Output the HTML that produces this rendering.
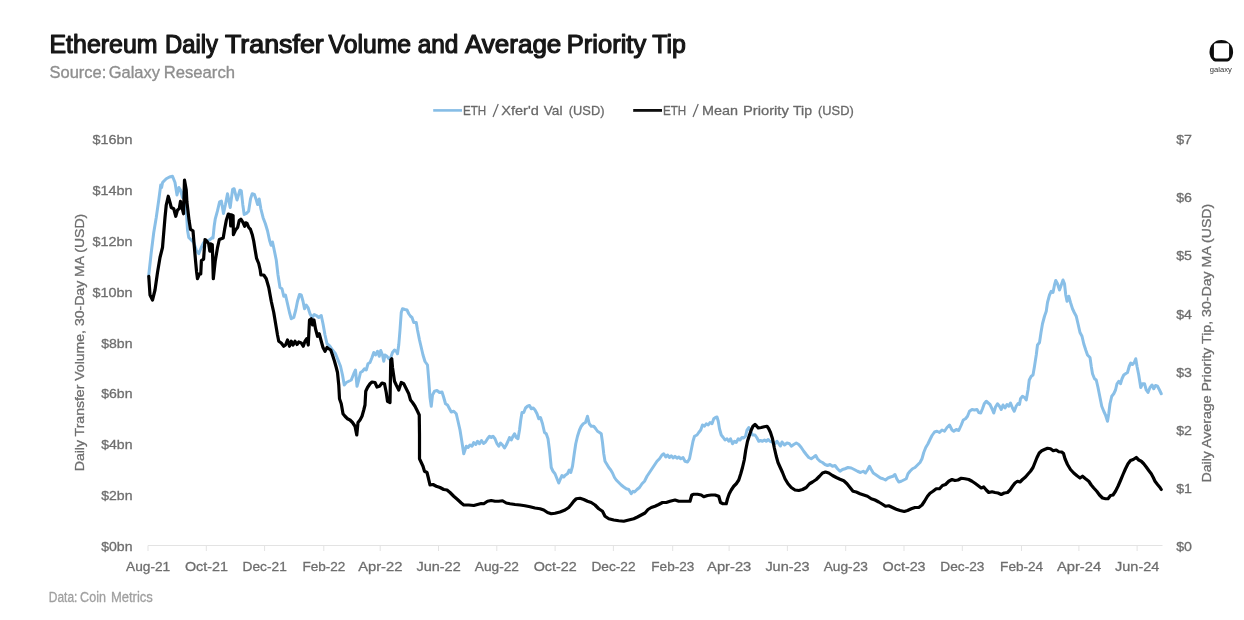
<!DOCTYPE html>
<html><head><meta charset="utf-8"><title>Ethereum Daily Transfer Volume and Average Priority Tip</title>
<style>
html,body{margin:0;padding:0;background:#fff;}
body{width:1244px;height:620px;overflow:hidden;position:relative;font-family:"Liberation Sans",sans-serif;}
svg{position:absolute;left:0;top:0;}
text{font-family:"Liberation Sans",sans-serif;}
</style></head><body>
<svg width="1244" height="620" viewBox="0 0 1244 620">
<defs><filter id="b" x="-5%" y="-5%" width="110%" height="110%"><feGaussianBlur stdDeviation="0.6"/></filter>
<filter id="b2" x="-5%" y="-20%" width="110%" height="140%"><feGaussianBlur stdDeviation="0.4"/></filter></defs>
<rect width="1244" height="620" fill="#ffffff"/>

<g filter="url(#b2)">
<text x="49.5" y="52.6" font-size="25.3" font-weight="normal" fill="#161616" stroke="#161616" stroke-width="1.2" stroke-linejoin="round" textLength="108.00" lengthAdjust="spacingAndGlyphs">Ethereum</text>
<text x="165" y="52.6" font-size="25.3" font-weight="normal" fill="#161616" stroke="#161616" stroke-width="1.2" stroke-linejoin="round" textLength="53.00" lengthAdjust="spacingAndGlyphs">Daily</text>
<text x="225" y="52.6" font-size="25.3" font-weight="normal" fill="#161616" stroke="#161616" stroke-width="1.2" stroke-linejoin="round" textLength="98.75" lengthAdjust="spacingAndGlyphs">Transfer</text>
<text x="328.5" y="52.6" font-size="25.3" font-weight="normal" fill="#161616" stroke="#161616" stroke-width="1.2" stroke-linejoin="round" textLength="82.50" lengthAdjust="spacingAndGlyphs">Volume</text>
<text x="417.7" y="52.6" font-size="25.3" font-weight="normal" fill="#161616" stroke="#161616" stroke-width="1.2" stroke-linejoin="round" textLength="40.70" lengthAdjust="spacingAndGlyphs">and</text>
<text x="465" y="52.6" font-size="25.3" font-weight="normal" fill="#161616" stroke="#161616" stroke-width="1.2" stroke-linejoin="round" textLength="96.30" lengthAdjust="spacingAndGlyphs">Average</text>
<text x="566.8" y="52.6" font-size="25.3" font-weight="normal" fill="#161616" stroke="#161616" stroke-width="1.2" stroke-linejoin="round" textLength="79.40" lengthAdjust="spacingAndGlyphs">Priority</text>
<text x="652.3" y="52.6" font-size="25.3" font-weight="normal" fill="#161616" stroke="#161616" stroke-width="1.2" stroke-linejoin="round" textLength="33.60" lengthAdjust="spacingAndGlyphs">Tip</text>
<text x="49.5" y="77.6" font-size="17.2" font-weight="normal" fill="#8e8e8e" stroke="#8e8e8e" stroke-width="0.35" stroke-linejoin="round" textLength="56.75" lengthAdjust="spacingAndGlyphs">Source:</text>
<text x="108.75" y="77.6" font-size="17.2" font-weight="normal" fill="#8e8e8e" stroke="#8e8e8e" stroke-width="0.35" stroke-linejoin="round" textLength="51.25" lengthAdjust="spacingAndGlyphs">Galaxy</text>
<text x="163.75" y="77.6" font-size="17.2" font-weight="normal" fill="#8e8e8e" stroke="#8e8e8e" stroke-width="0.35" stroke-linejoin="round" textLength="71.25" lengthAdjust="spacingAndGlyphs">Research</text>
<text x="48.8" y="601.6" font-size="14.0" font-weight="normal" fill="#a0a0a0" stroke="#a0a0a0" stroke-width="0.3" stroke-linejoin="round" textLength="28.60" lengthAdjust="spacingAndGlyphs">Data:</text>
<text x="80.1" y="601.6" font-size="14.0" font-weight="normal" fill="#a0a0a0" stroke="#a0a0a0" stroke-width="0.3" stroke-linejoin="round" textLength="25.80" lengthAdjust="spacingAndGlyphs">Coin</text>
<text x="110.9" y="601.6" font-size="14.0" font-weight="normal" fill="#a0a0a0" stroke="#a0a0a0" stroke-width="0.3" stroke-linejoin="round" textLength="42.00" lengthAdjust="spacingAndGlyphs">Metrics</text>
<line x1="433.2" y1="110.4" x2="462" y2="110.4" stroke="#86bde6" stroke-width="2.6"/>
<text x="463" y="114.6" font-size="13.6" font-weight="normal" fill="#696969" stroke="#696969" stroke-width="0.3" stroke-linejoin="round" textLength="23.25" lengthAdjust="spacingAndGlyphs">ETH</text>
<line x1="493.0" y1="116.89999999999999" x2="498.25" y2="104.0" stroke="#696969" stroke-width="1.25"/>
<text x="501.25" y="114.6" font-size="13.6" font-weight="normal" fill="#696969" stroke="#696969" stroke-width="0.3" stroke-linejoin="round" textLength="37.50" lengthAdjust="spacingAndGlyphs">Xfer&#39;d</text>
<text x="543.75" y="114.6" font-size="13.6" font-weight="normal" fill="#696969" stroke="#696969" stroke-width="0.3" stroke-linejoin="round" textLength="18.75" lengthAdjust="spacingAndGlyphs">Val</text>
<text x="568.75" y="114.6" font-size="13.6" font-weight="normal" fill="#696969" stroke="#696969" stroke-width="0.3" stroke-linejoin="round" textLength="35.75" lengthAdjust="spacingAndGlyphs">(USD)</text>
<line x1="633.2" y1="110.4" x2="662" y2="110.4" stroke="#0a0a0a" stroke-width="2.8"/>
<text x="663" y="114.6" font-size="13.6" font-weight="normal" fill="#696969" stroke="#696969" stroke-width="0.3" stroke-linejoin="round" textLength="23.25" lengthAdjust="spacingAndGlyphs">ETH</text>
<line x1="693.0" y1="116.89999999999999" x2="698.25" y2="104.0" stroke="#696969" stroke-width="1.25"/>
<text x="702" y="114.6" font-size="13.6" font-weight="normal" fill="#696969" stroke="#696969" stroke-width="0.3" stroke-linejoin="round" textLength="36.00" lengthAdjust="spacingAndGlyphs">Mean</text>
<text x="743" y="114.6" font-size="13.6" font-weight="normal" fill="#696969" stroke="#696969" stroke-width="0.3" stroke-linejoin="round" textLength="45.75" lengthAdjust="spacingAndGlyphs">Priority</text>
<text x="793" y="114.6" font-size="13.6" font-weight="normal" fill="#696969" stroke="#696969" stroke-width="0.3" stroke-linejoin="round" textLength="19.00" lengthAdjust="spacingAndGlyphs">Tip</text>
<text x="818" y="114.6" font-size="13.6" font-weight="normal" fill="#696969" stroke="#696969" stroke-width="0.3" stroke-linejoin="round" textLength="35.75" lengthAdjust="spacingAndGlyphs">(USD)</text>
<g stroke="#6e6e6e" stroke-width="0.3">
<text x="92.5" y="144.1" font-size="13.4" fill="#6e6e6e" textLength="40.0" lengthAdjust="spacingAndGlyphs">$16bn</text>
<text x="92.5" y="194.9" font-size="13.4" fill="#6e6e6e" textLength="40.0" lengthAdjust="spacingAndGlyphs">$14bn</text>
<text x="92.5" y="245.8" font-size="13.4" fill="#6e6e6e" textLength="40.0" lengthAdjust="spacingAndGlyphs">$12bn</text>
<text x="92.5" y="296.6" font-size="13.4" fill="#6e6e6e" textLength="40.0" lengthAdjust="spacingAndGlyphs">$10bn</text>
<text x="101.25" y="347.5" font-size="13.4" fill="#6e6e6e" textLength="31.25" lengthAdjust="spacingAndGlyphs">$8bn</text>
<text x="101.25" y="398.3" font-size="13.4" fill="#6e6e6e" textLength="31.25" lengthAdjust="spacingAndGlyphs">$6bn</text>
<text x="101.25" y="449.2" font-size="13.4" fill="#6e6e6e" textLength="31.25" lengthAdjust="spacingAndGlyphs">$4bn</text>
<text x="101.25" y="500.0" font-size="13.4" fill="#6e6e6e" textLength="31.25" lengthAdjust="spacingAndGlyphs">$2bn</text>
<text x="101.25" y="550.9" font-size="13.4" fill="#6e6e6e" textLength="31.25" lengthAdjust="spacingAndGlyphs">$0bn</text>
<text x="1176.2" y="144.2" font-size="13.4" fill="#6e6e6e" textLength="15.8" lengthAdjust="spacingAndGlyphs">$7</text>
<text x="1176.2" y="202.2" font-size="13.4" fill="#6e6e6e" textLength="15.8" lengthAdjust="spacingAndGlyphs">$6</text>
<text x="1176.2" y="260.4" font-size="13.4" fill="#6e6e6e" textLength="15.8" lengthAdjust="spacingAndGlyphs">$5</text>
<text x="1176.2" y="318.5" font-size="13.4" fill="#6e6e6e" textLength="15.8" lengthAdjust="spacingAndGlyphs">$4</text>
<text x="1176.2" y="376.6" font-size="13.4" fill="#6e6e6e" textLength="15.8" lengthAdjust="spacingAndGlyphs">$3</text>
<text x="1176.2" y="434.6" font-size="13.4" fill="#6e6e6e" textLength="15.8" lengthAdjust="spacingAndGlyphs">$2</text>
<text x="1176.2" y="492.8" font-size="13.4" fill="#6e6e6e" textLength="15.8" lengthAdjust="spacingAndGlyphs">$1</text>
<text x="1176.2" y="550.9" font-size="13.4" fill="#6e6e6e" textLength="15.8" lengthAdjust="spacingAndGlyphs">$0</text>
<text x="126.0" y="571.2" font-size="13.4" fill="#6e6e6e" textLength="44.2" lengthAdjust="spacingAndGlyphs">Aug-21</text>
<text x="184.9" y="571.2" font-size="13.4" fill="#6e6e6e" textLength="43.0" lengthAdjust="spacingAndGlyphs">Oct-21</text>
<text x="242.6" y="571.2" font-size="13.4" fill="#6e6e6e" textLength="44.2" lengthAdjust="spacingAndGlyphs">Dec-21</text>
<text x="302.4" y="571.2" font-size="13.4" fill="#6e6e6e" textLength="43.0" lengthAdjust="spacingAndGlyphs">Feb-22</text>
<text x="358.2" y="571.2" font-size="13.4" fill="#6e6e6e" textLength="44.2" lengthAdjust="spacingAndGlyphs">Apr-22</text>
<text x="416.5" y="571.2" font-size="13.4" fill="#6e6e6e" textLength="44.2" lengthAdjust="spacingAndGlyphs">Jun-22</text>
<text x="474.8" y="571.2" font-size="13.4" fill="#6e6e6e" textLength="44.2" lengthAdjust="spacingAndGlyphs">Aug-22</text>
<text x="533.7" y="571.2" font-size="13.4" fill="#6e6e6e" textLength="43.0" lengthAdjust="spacingAndGlyphs">Oct-22</text>
<text x="591.4" y="571.2" font-size="13.4" fill="#6e6e6e" textLength="44.2" lengthAdjust="spacingAndGlyphs">Dec-22</text>
<text x="651.3" y="571.2" font-size="13.4" fill="#6e6e6e" textLength="43.0" lengthAdjust="spacingAndGlyphs">Feb-23</text>
<text x="707.1" y="571.2" font-size="13.4" fill="#6e6e6e" textLength="44.2" lengthAdjust="spacingAndGlyphs">Apr-23</text>
<text x="765.4" y="571.2" font-size="13.4" fill="#6e6e6e" textLength="44.2" lengthAdjust="spacingAndGlyphs">Jun-23</text>
<text x="823.7" y="571.2" font-size="13.4" fill="#6e6e6e" textLength="44.2" lengthAdjust="spacingAndGlyphs">Aug-23</text>
<text x="882.6" y="571.2" font-size="13.4" fill="#6e6e6e" textLength="43.0" lengthAdjust="spacingAndGlyphs">Oct-23</text>
<text x="940.3" y="571.2" font-size="13.4" fill="#6e6e6e" textLength="44.2" lengthAdjust="spacingAndGlyphs">Dec-23</text>
<text x="1000.1" y="571.2" font-size="13.4" fill="#6e6e6e" textLength="43.0" lengthAdjust="spacingAndGlyphs">Feb-24</text>
<text x="1056.9" y="571.2" font-size="13.4" fill="#6e6e6e" textLength="44.2" lengthAdjust="spacingAndGlyphs">Apr-24</text>
<text x="1115.1" y="571.2" font-size="13.4" fill="#6e6e6e" textLength="44.2" lengthAdjust="spacingAndGlyphs">Jun-24</text>
<text transform="translate(84.0,471.25) rotate(-90)" font-size="13.4" fill="#6e6e6e" textLength="257.5" lengthAdjust="spacingAndGlyphs">Daily Transfer Volume, 30-Day MA (USD)</text>
<text transform="translate(1211.2,482.5) rotate(-90)" font-size="13.4" fill="#6e6e6e" textLength="278.75" lengthAdjust="spacingAndGlyphs">Daily Average Priority Tip, 30-Day MA (USD)</text>
</g>
</g>
<line x1="148" y1="545.5" x2="1162.5" y2="545.5" stroke="#e3e3e3" stroke-width="1"/>
<line x1="148.0" y1="545.5" x2="148.0" y2="551" stroke="#e3e3e3" stroke-width="1"/>
<line x1="206.3" y1="545.5" x2="206.3" y2="551" stroke="#e3e3e3" stroke-width="1"/>
<line x1="264.6" y1="545.5" x2="264.6" y2="551" stroke="#e3e3e3" stroke-width="1"/>
<line x1="323.8" y1="545.5" x2="323.8" y2="551" stroke="#e3e3e3" stroke-width="1"/>
<line x1="380.2" y1="545.5" x2="380.2" y2="551" stroke="#e3e3e3" stroke-width="1"/>
<line x1="438.5" y1="545.5" x2="438.5" y2="551" stroke="#e3e3e3" stroke-width="1"/>
<line x1="496.8" y1="545.5" x2="496.8" y2="551" stroke="#e3e3e3" stroke-width="1"/>
<line x1="555.1" y1="545.5" x2="555.1" y2="551" stroke="#e3e3e3" stroke-width="1"/>
<line x1="613.4" y1="545.5" x2="613.4" y2="551" stroke="#e3e3e3" stroke-width="1"/>
<line x1="672.7" y1="545.5" x2="672.7" y2="551" stroke="#e3e3e3" stroke-width="1"/>
<line x1="729.1" y1="545.5" x2="729.1" y2="551" stroke="#e3e3e3" stroke-width="1"/>
<line x1="787.4" y1="545.5" x2="787.4" y2="551" stroke="#e3e3e3" stroke-width="1"/>
<line x1="845.7" y1="545.5" x2="845.7" y2="551" stroke="#e3e3e3" stroke-width="1"/>
<line x1="904.0" y1="545.5" x2="904.0" y2="551" stroke="#e3e3e3" stroke-width="1"/>
<line x1="962.3" y1="545.5" x2="962.3" y2="551" stroke="#e3e3e3" stroke-width="1"/>
<line x1="1021.5" y1="545.5" x2="1021.5" y2="551" stroke="#e3e3e3" stroke-width="1"/>
<line x1="1078.9" y1="545.5" x2="1078.9" y2="551" stroke="#e3e3e3" stroke-width="1"/>
<line x1="1137.1" y1="545.5" x2="1137.1" y2="551" stroke="#e3e3e3" stroke-width="1"/>
<g filter="url(#b)" fill="none" stroke-linejoin="round" stroke-linecap="round">
<polyline points="148.75,275 151.25,252.5 153.75,232.5 156.25,217.5 158.75,200 160.75,185 161.6,187.5 162.6,182.5 163.75,181.25 166.25,178.75 169.5,177 172.5,176.25 175,182.5 177,195 178.9,187.5 180.5,190 182.5,197.5 184.5,190 186,205 187.5,230 188.75,237.5 191.25,240 193.75,242.5 196.25,250 198.75,253.75 201.25,247.5 203.75,242.5 206.5,241 209.5,240 212.5,237.5 213,238 214.2,226 215.2,219.2 217.4,211.2 219.6,201.8 221.4,201 223.5,213.5 225.4,204.7 227.5,193.8 230.2,207.5 232.6,189.4 234.1,188.7 237,200 239.9,190.2 241.3,190.9 242.8,204.7 244.2,214.5 246.4,213.4 248.6,211.2 250.5,198.9 252.2,193.8 254.4,194.5 256.4,200.3 257.6,204.5 259.2,199 260.9,209 263.1,217.7 265.3,223.5 267.5,230.8 269.6,240.5 271.1,245.3 272.5,242 274,249 276.25,260 278,275 280,287.5 282,288.75 283.75,296.25 285.5,295 287.5,303.75 289.5,312.5 291.25,318.75 293.75,317.5 295.75,310 297.5,301.25 299.5,294.5 301.25,295 303,301.25 304.5,308.75 306.25,305 308,307.5 310,313.75 312,317.5 314.25,314.5 316.25,315.5 318.75,317.5 321.25,315.5 323,323.75 325,335 327,343.75 330,346.25 332.5,350 335.5,353.75 338,360 340.5,366.25 342.5,375 344.25,385 346.25,382.5 348.75,381.25 351.25,380 353.75,373.75 355.5,370 357,386.25 358.75,380 360.5,372.5 362.5,371.25 364.5,368.75 366.25,370 368,363.75 370,362.5 372,357.5 373.75,352.5 375.5,355 377.5,351.25 379.25,356.25 380.75,350.5 382.5,355 383.75,361.25 385,355 387,356.25 388.75,358.75 390.75,357.5 392.5,352.5 394.5,350 396.25,351.25 397.5,353.75 398.75,345 400,330 401.25,312.5 402.5,308.75 405,309.5 407,310 408.75,313.75 410.5,316.25 412,317.5 413.75,322.5 416.25,322.5 417.5,330 419.5,340 421.25,347.5 423,355 425,361.5 427.5,365 428.75,380 430,397.5 431.25,406.25 432.5,395 434.5,391.25 437,390.5 439.5,392.5 442,392 443.75,397.5 445.5,403.75 447.5,405 449.5,408.75 451.25,412 453.75,411.25 456.25,413.75 458,421.25 460,430 462,442.5 463.75,453.75 466.25,446.25 468,447.5 470,445 472,446.25 473.75,442.5 475.75,444.5 477.5,441.25 479.5,443.75 481.5,440.5 483.5,443.5 485.5,442 487.5,438.75 489.5,436.25 491.25,437.5 493,436.25 495,438.75 497,443.75 498.75,446.25 500.5,443 502.5,445 504.5,448 506.25,445 508,441.25 509.5,437.5 511.25,440 513,436.25 514.5,433.75 516.25,437.5 518,438.75 519.5,430 520.75,420 522,412.5 523.75,412.5 525.5,408 527.5,406.25 529.5,405.5 531.25,408.75 533.25,408 535,410 537,413.75 538.75,418.75 540.5,417.5 542.5,423.75 544.5,432.5 546.25,433.75 548,438.75 549.5,450 551.25,467.5 553,471.25 555,473.75 557,478.75 558.75,483 560.5,478.75 562,475.5 563.75,477 565.5,475 567.5,473.75 569.25,470 570.75,472.5 572.5,466.25 574.25,453.75 575.75,443.75 577.5,436.25 579.5,430 581.25,426.25 583.25,423.75 585.5,422.5 587.5,416.25 589.25,423.75 591.25,426.25 593.75,426.25 595.75,428.75 597.5,431.25 599.5,432.5 601.25,433.75 602.5,442.5 603.75,453.75 605,461.25 607,464.5 608.75,467.5 610.75,470 612.5,473 614.5,477.5 616.25,480 618.75,482.5 621.25,485 623.75,487 626.25,488.75 628.75,489.5 631.25,493.75 633,491.25 634.5,492 637,489.5 639.5,487.5 642,483.75 644.5,481.25 647,476.25 649.5,472.5 652,468.75 654.5,465 657,461.25 659.5,458.75 662,455 663.75,453.75 665.75,457 667.5,455 669.5,457.5 671.25,455.75 673.25,458 675,456.25 677,458.25 678.75,457 680.75,458.75 683,457.5 685,461.25 687.5,462 689.5,458.75 691.25,450 693,441.25 694.5,436.25 697,435 698.75,432.5 700.75,430 702.5,425 704.5,426.25 706.25,423.75 708.25,425 710,422.5 712,423.75 713.75,418.75 715.5,417.5 717,417 718.25,421.25 719.5,428.75 721.25,435 723.25,437.5 725,440 727,438.75 728.75,441.25 730.5,438.75 732.5,443.75 734.5,441.25 736.25,442.5 738.25,438.75 740,440 742,437.5 743.75,438 745.5,436.25 747,430 748.75,427.5 750.5,431.25 752.5,435 755,435 756.75,437.5 758.75,441.25 760.5,440.5 762.5,441.25 764.5,440 766.25,441.25 768.25,439.5 770,441.25 772.5,442 775,443.75 777,441.25 778.75,443.75 780.5,446 782,442 784.5,445 787,443 789.5,443.75 791.25,446.25 793.75,444.5 796.25,443 798.75,444.5 801.25,447.5 803.75,451.25 806.25,454.5 808.75,457.5 811.25,458.75 813.75,457 815.75,455.5 817.5,458.75 820,461.25 822.5,462.5 825,464.5 827.5,465.5 830,464.5 832.5,466.25 835,465.5 837.5,468.75 840,471.25 842.5,469.5 845,468.75 848,467.5 851.25,468 854.25,469.5 857.5,471.25 860.5,472.5 863.25,471.25 865.5,473 867.5,470 869.5,466.25 871.25,469.5 873.25,473 875.5,474.5 878,476.25 880.5,478 883,478.75 885.5,480 888,478 890.5,477 893,476.25 895,474.5 896.75,478.75 898.75,482 901.25,481.25 903.75,480 906.25,478.75 908,473.75 910,471.25 912.5,468.75 915,467.5 917.5,465 920,462.5 922,458.75 923.75,452.5 925.75,447.5 928,443.75 930,439.5 932,435.5 934.5,432 937,431.25 939.5,432.5 942,430 944.5,431.25 947,427.5 949.5,425 952,430 953.75,431.25 956.25,429.5 958.75,430.5 961.25,425 963.25,420 965.5,418.75 967.5,416.25 969.5,411.25 972,409.5 974.5,410 977,409.5 978.75,412.5 980.75,413 982.5,408.75 984.25,403.75 986.25,401.25 988.25,403 990,404.5 992,408.75 993.75,413 995.5,407 997.5,403.75 999.5,406.25 1001.25,409.5 1003,405 1005,408 1007,404.5 1008.75,406.25 1010.5,403 1012.5,408 1014.25,411.25 1016.25,406 1018,403.5 1019.5,404.5 1020.5,398.75 1022.5,396.25 1024.5,397.5 1026.25,400 1028,390 1029.25,380 1031.25,376.25 1033,375 1034.5,366.25 1036.25,355 1037.5,345 1039.5,342.5 1041,332.5 1042.5,323.75 1044.5,316.25 1046.25,311.25 1047.5,302.5 1049.5,295 1051.25,291.25 1053,292.5 1054.5,285 1055.75,280.5 1057.5,283.75 1059.5,290 1061.25,285 1063,280 1064.5,283.75 1065.75,295 1067,301.25 1068.75,296.25 1070.5,302.5 1072.5,308.75 1074.25,312.5 1076.25,316.25 1078,323.75 1080,332.5 1082,336.25 1083.75,343.75 1085.75,350 1087.5,355 1090,357.5 1091.25,366.25 1092.5,373.75 1094.5,378.75 1096.25,380 1098,387.5 1100,397.5 1101.75,406.25 1103.75,411.25 1105.5,415 1107.5,421.25 1108.75,413.75 1110,403.75 1111.75,396.25 1113.75,393.75 1115.5,390 1117,383.75 1118.75,381.25 1120.5,383.75 1122,378.75 1123.75,375 1125.5,373.75 1127.5,372.5 1129.25,366.25 1130.75,363 1132.5,364.5 1134.25,362.5 1135.75,358.75 1137,366.25 1138.75,375 1140.75,387.5 1142.5,383.75 1144.5,383.75 1146.25,390 1148,392.5 1150,387.5 1152,385 1153.75,388.75 1155.5,385.5 1157.5,386.25 1159.5,390 1161.25,393.75" stroke="#89bfe7" stroke-width="3.0"/>
<polyline points="148.75,276.25 150,295 152.5,300 155,290 157.5,272.5 160,257.5 162.5,247.5 165,217.5 166.25,205 168.25,196.25 170,202.5 171.25,207.5 173.75,208.75 175.75,216.25 177.5,210 179.25,208.75 180.5,201.25 182,207.5 183.5,213.75 184.5,180 186.25,190 186.9,201.8 189.1,220.6 190.5,229.4 193,230.8 194.2,245.3 195.6,261.3 196.6,272 197.5,278.75 199.5,273.75 200.75,274 201.4,260.6 203.6,259.1 205,239.5 207.2,241.7 208.7,243.9 209.8,251.1 210.8,243.9 212.3,244.6 213.3,278.75 215.2,261.3 217.4,248.2 219.3,239.5 223.2,238 224.6,229.4 226.4,219.9 228.3,214.1 230.2,214.8 230.7,226 231.6,214.8 233.1,215.6 233.4,234.6 235.5,230.1 237.7,227.2 239.2,220.6 240.9,219.2 242.8,222.1 244.7,226.4 245.7,222.8 247.1,223.5 248.6,227.2 250.5,229.4 252.2,234.4 253.7,241 255.1,249.7 256.6,258.4 258.7,263.5 260.2,270 260.9,275 263.75,275 266.25,278.75 268.75,287.5 271.25,301.25 273.75,312.5 275,320 277.5,335 278.75,341.25 281.25,343 283.75,346.25 285.5,345 287.5,340 289.5,346.25 291.25,341.25 293,345 295,341.25 297,344.5 298.75,342 301.25,343 303.25,346.25 305,341.25 306.75,338.75 308.25,345 309.5,320 311.25,318.75 312.5,325 314,320 315.5,328.75 317.5,336.25 319.25,333.75 321.25,341.25 323,347.5 325,351.25 327,347.5 328.75,348.75 330.75,350 332.5,355 334.5,361.25 336.25,367.5 337.5,372.5 338.75,385 339.5,398.75 341.25,403.75 343,413.75 345,416.25 347.5,418.75 350,420 352.5,422.5 355,426.25 356.75,435 358,422.5 360,420 362,416.25 363.75,410 365,405 365.75,391.25 367.5,387.5 370,383.75 372,382 375,382.5 377,387 379.5,386.25 382,383 384.5,383.75 386.25,392.5 387.5,401.25 390,402.5 390.75,360 391.75,358.75 392.5,367.5 394.5,381.25 396.25,385 398.75,390 401.25,382.5 403.75,383.75 406.25,388.75 408.75,393.75 410.5,400 412.5,402.5 415,406.25 417.5,411.25 419.25,415 419.5,435 419.5,458.75 421.25,462.5 423,466.25 424.5,471.25 427,472.5 428.25,477.5 430,485 433,484.5 436.25,486.25 440,487.5 443.75,489.5 447,490 450,492.5 453.75,496.25 457.5,499.5 461.25,503 463.75,505 468.75,505 473.75,505.5 477.5,504.5 481.25,503.5 483.75,503.75 487.5,501.25 491.25,500.5 495,501.25 498.75,501.25 502.5,500.75 506.25,503 510,503.75 515,504.5 520,505 525,505.75 530,506.75 535,508 540,508.75 543.75,510 547.5,512.5 551.25,513.75 555,513.25 560,512 565,510 568.75,507.5 571.25,504.5 573.75,501.25 576.25,498.75 580,498.25 583.75,499.5 587.5,501.25 591.25,502.5 595,505 598.75,508.75 602.5,511.25 605,516.25 608.75,518.75 613.75,520 618.75,520.75 623.75,521.25 628.75,520 633.75,518.75 637.5,517 641.25,515 645,513 648,509.5 651.25,507.5 655,506.25 658.75,504.5 662.5,502.5 666.25,502.5 670,501.25 675,500 678.75,501.25 683.75,501.25 690,501.25 691.75,495 693.75,494.25 697.5,494.25 701.25,495 703.75,496.75 707.5,495.5 711.25,495 715,495 718.75,496.25 720.5,502.5 723,503.75 726.25,503.75 727.5,498.75 729.25,493.75 731.25,490 733.75,486.25 736.25,483.75 738.75,480 740.75,473.75 742.5,467.5 744.25,460 745.75,450 747.5,441.25 749.5,435 751.25,430 753,426.25 755,424.5 756.75,426.25 758.25,428 761.25,427.5 764.25,426.75 767,426.25 768.75,428.75 770.5,432.5 772.5,438.75 774.25,447.5 776.25,456.25 778,462.5 780,467 782.5,472.5 785,478.75 788,483.75 791.25,487.5 795,490 798.75,490.5 802.5,489.5 806.25,487.5 809.5,483.75 812.5,482 816.25,479.5 819.5,476.25 822.5,473 825.5,472 828.75,473 832.5,475.5 836.25,477.5 840,479.25 843.75,480.75 847,483.75 850,487.5 853,491.25 856.25,492 860,493.75 863.75,495 867.5,496.25 871.25,498.75 875,500 878.75,502 882.5,504.25 885.5,506.25 888.75,505.75 892.5,507.5 896.25,509.25 900,510.5 904.25,511.5 907.5,510.5 911.25,508.75 915,507.5 918.75,507.5 922,505 924.5,501.25 927.5,496.25 930,493.25 933,491.25 936.25,488.75 939.5,488.75 942.5,485.5 945.5,484.5 948.75,481.25 952,479.5 955,480.5 958,480 961.25,478.25 965,478.75 968.75,479.5 972,481.25 975,483.25 978,485.5 981.25,488 983.75,487 986.25,490 988.75,492.5 992,491.75 995,492.5 998,493 1001.25,494.5 1004.25,493 1007.5,492.5 1010,490 1012.5,486.25 1015,483 1017.5,481.25 1020,482 1022.5,479.5 1025.5,477 1028.25,473.75 1030.5,471.25 1033,467.5 1035,462.5 1037,457.5 1039.25,453 1041.75,450.75 1044.5,449.5 1047.5,448.25 1050.5,448.75 1053.25,450.75 1056.25,450 1058.75,451.75 1061.75,452 1063.5,453.5 1065,458.75 1067.5,464.5 1070.5,469.5 1073.75,473 1077,475.75 1080,478 1082.5,476.25 1085.5,478.75 1088.75,481.25 1091.25,485 1093.75,488 1096.75,491.25 1099.5,495 1102.5,498 1105.5,498.75 1108,498.75 1110.5,495.5 1113,495 1115.5,491.25 1118,486.25 1120.5,480.5 1123,474.5 1125.5,468.75 1128,463.75 1130.5,460.5 1133.25,459.5 1136.25,457.5 1138.75,460 1141.25,461.25 1143.75,463.75 1146.25,467 1148.75,470.5 1151.25,473.75 1153.25,477.5 1155,481.25 1157.5,484.5 1160,487.5 1161.25,489.5" stroke="#050505" stroke-width="3.2"/>
</g>
<g filter="url(#b2)">
<clipPath id="lc"><rect x="1200" y="30" width="44" height="31.6"/></clipPath>
<circle cx="1221.3" cy="51.9" r="11.8" fill="#0a0a0a" clip-path="url(#lc)"/>
<rect x="1213.9" y="43.3" width="15.2" height="15.1" rx="1.8" fill="#ffffff"/>
<text x="1220.8" y="72" font-size="7.6" fill="#333" text-anchor="middle" textLength="22" lengthAdjust="spacingAndGlyphs">galaxy</text>
</g>
</svg></body></html>
